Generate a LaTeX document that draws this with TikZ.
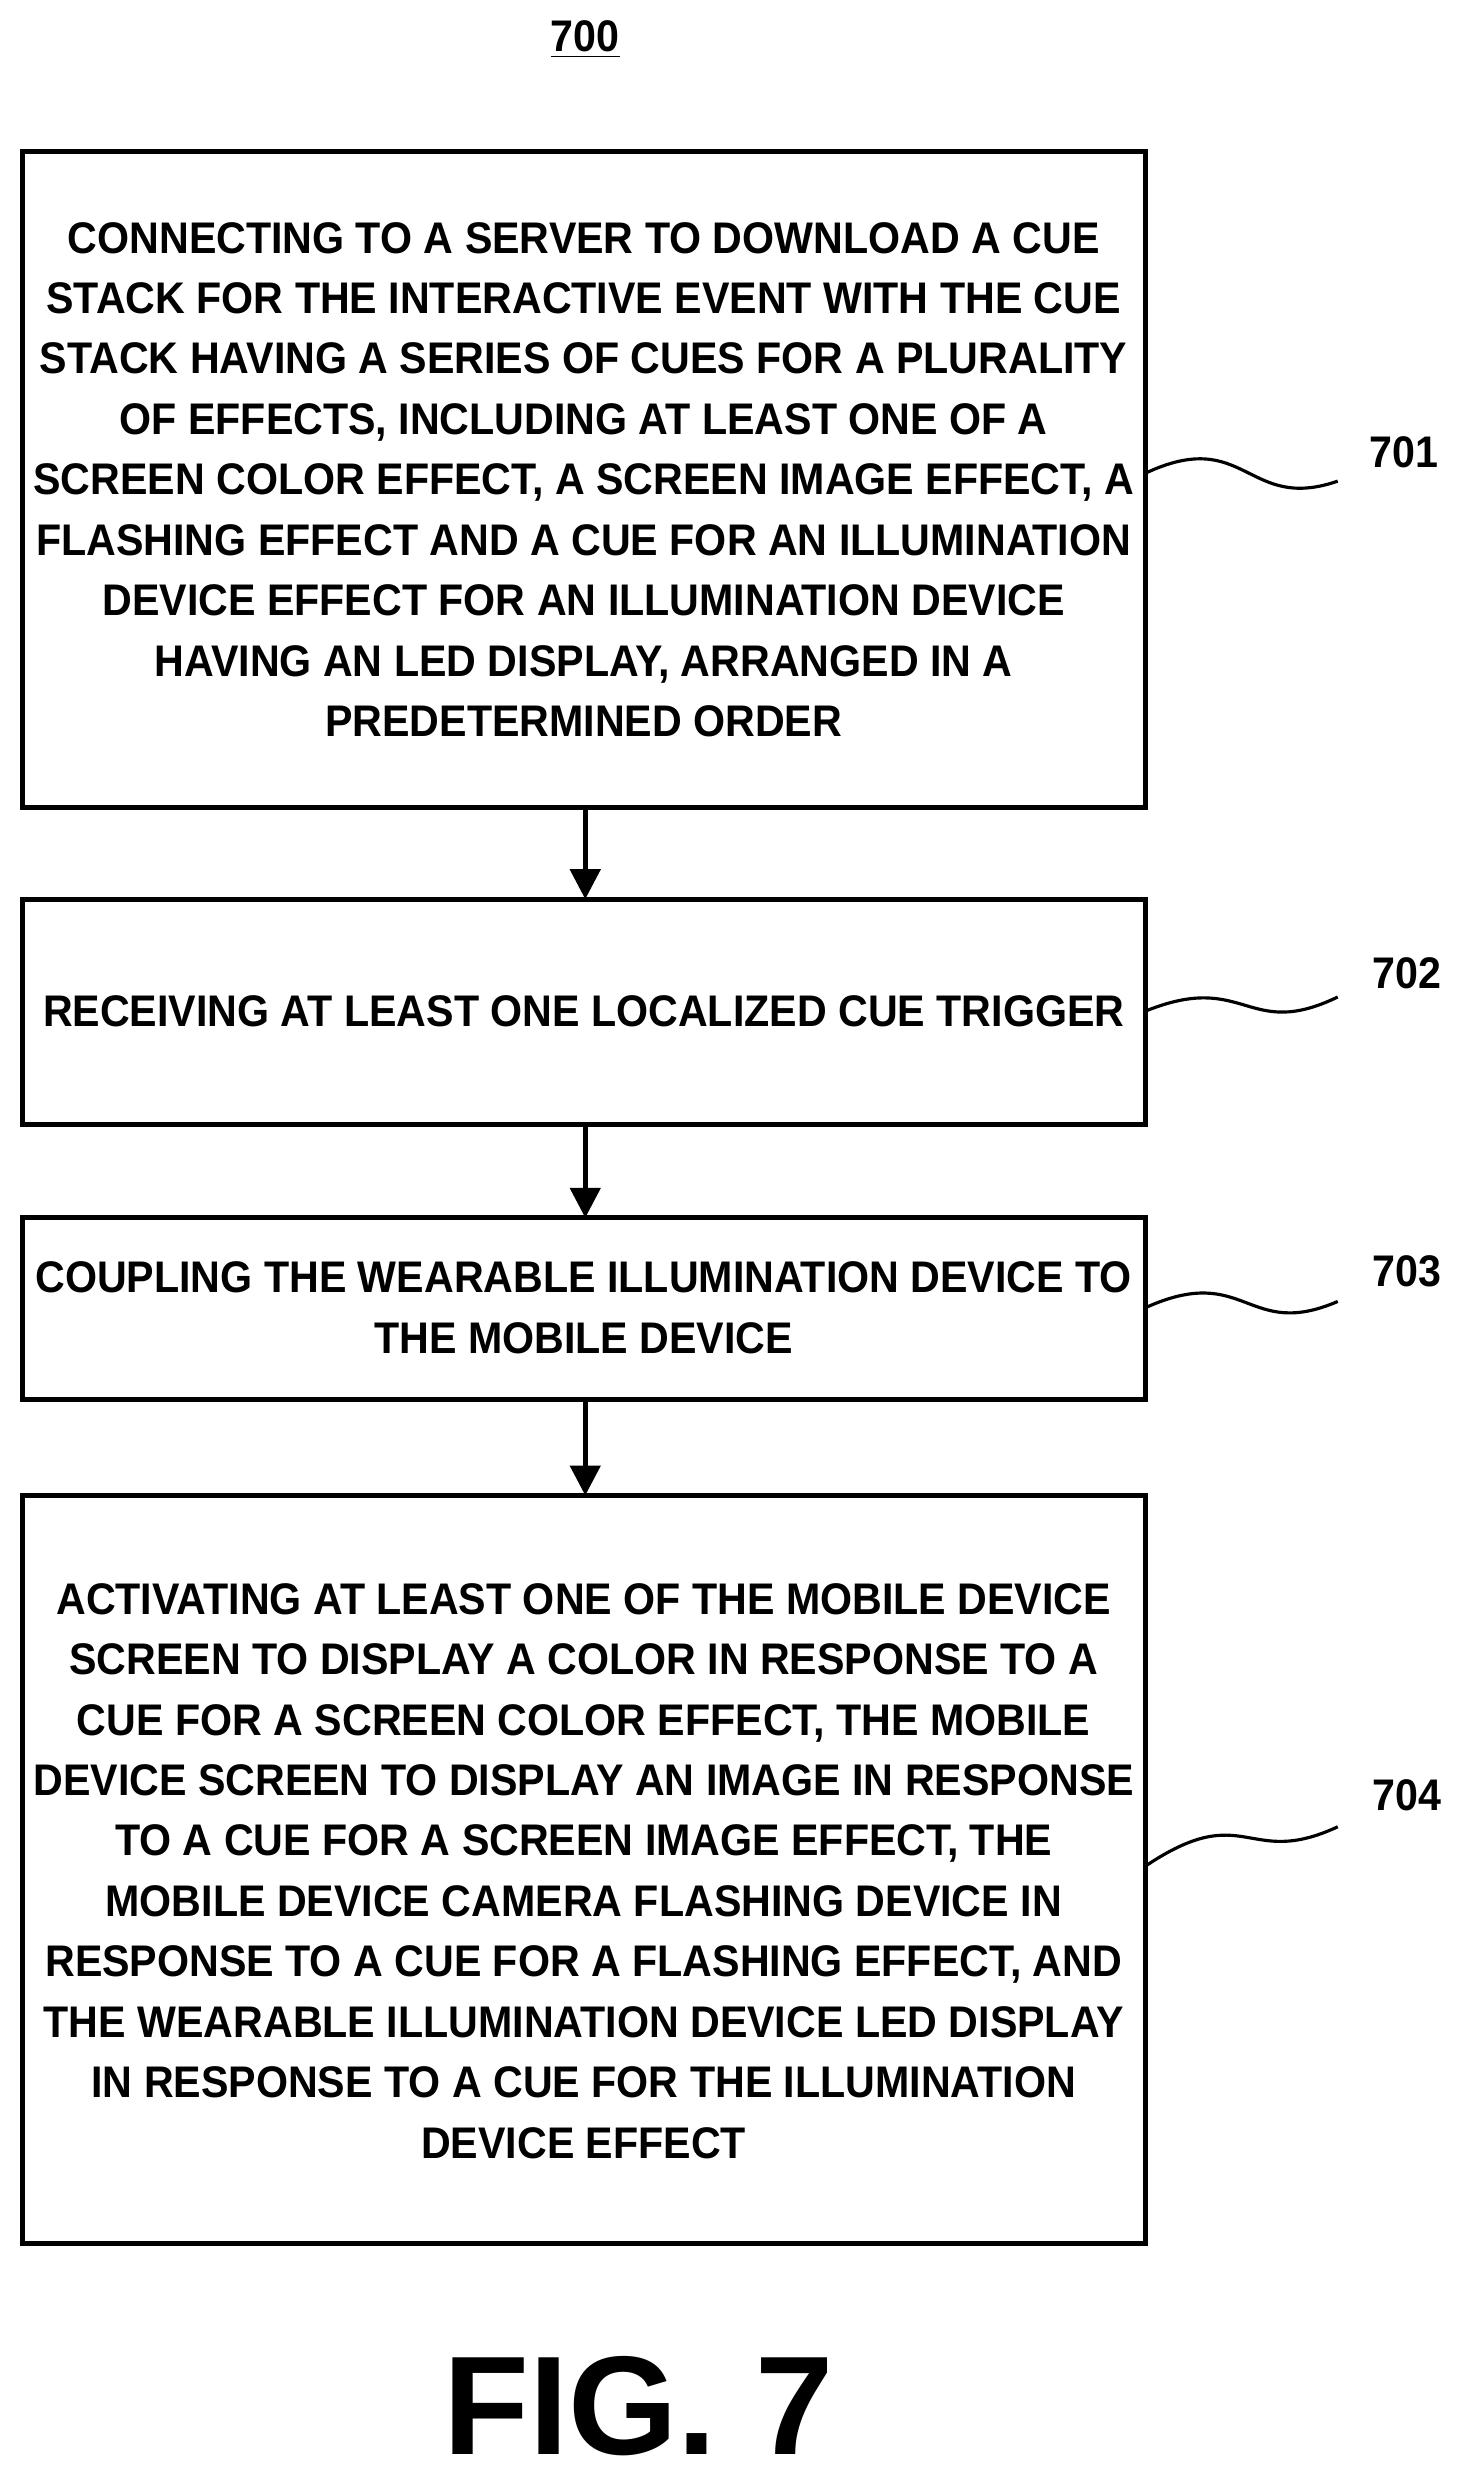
\documentclass[tikz,border=0pt]{standalone}
\usepackage{fontspec}
\setmainfont{Liberation Sans}[FakeStretch=0.93]
\newfontfamily\figfont{Liberation Sans}
\usetikzlibrary{arrows.meta}
\tikzset{%
    >={Triangle[width=3mm,length=3mm]},
    stepframe/.style = {draw=black, line width=1.4pt},
    steptext/.style = {align=center,
        font=\bfseries\fontsize{12.6}{17.2}\selectfont},
    refnum/.style = {font=\bfseries\fontsize{12.6}{15}\selectfont},
    lead/.style = {line width=0.9pt},
}
\begin{document}
\begin{tikzpicture}[x=0.01577cm, y=-0.01577cm]
    \useasboundingbox (0,0) rectangle (930,1574);
    % Title
    \node (title) [refnum] at (371,25) {\underline{700}};

    % Boxes
    \draw[stepframe] (14,96) rectangle (726,512);
    \node (s701) [steptext] at (370,304) {CONNECTING TO A SERVER TO DOWNLOAD A CUE\\
        STACK FOR THE INTERACTIVE EVENT WITH THE CUE\\
        STACK HAVING A SERIES OF CUES FOR A PLURALITY\\
        OF EFFECTS, INCLUDING AT LEAST ONE OF A\\
        SCREEN COLOR EFFECT, A SCREEN IMAGE EFFECT, A\\
        FLASHING EFFECT AND A CUE FOR AN ILLUMINATION\\
        DEVICE EFFECT FOR AN ILLUMINATION DEVICE\\
        HAVING AN LED DISPLAY, ARRANGED IN A\\
        PREDETERMINED ORDER};
    \draw[stepframe] (14,570) rectangle (726,713);
    \node (s702) [steptext] at (370,641) {RECEIVING AT LEAST ONE LOCALIZED CUE TRIGGER};
    \draw[stepframe] (14,772) rectangle (726,887);
    \node (s703) [steptext] at (370,829) {COUPLING THE WEARABLE ILLUMINATION DEVICE TO\\
        THE MOBILE DEVICE};
    \draw[stepframe] (14,948) rectangle (726,1422);
    \node (s704) [steptext] at (370,1186) {ACTIVATING AT LEAST ONE OF THE MOBILE DEVICE\\
        SCREEN TO DISPLAY A COLOR IN RESPONSE TO A\\
        CUE FOR A SCREEN COLOR EFFECT, THE MOBILE\\
        DEVICE SCREEN TO DISPLAY AN IMAGE IN RESPONSE\\
        TO A CUE FOR A SCREEN IMAGE EFFECT, THE\\
        MOBILE DEVICE CAMERA FLASHING DEVICE IN\\
        RESPONSE TO A CUE FOR A FLASHING EFFECT, AND\\
        THE WEARABLE ILLUMINATION DEVICE LED DISPLAY\\
        IN RESPONSE TO A CUE FOR THE ILLUMINATION\\
        DEVICE EFFECT};

    % Arrows
    \coordinate (b1) at (371,512); \coordinate (t2) at (371,570);
    \coordinate (b2) at (371,713); \coordinate (t3) at (371,772);
    \coordinate (b3) at (371,887); \coordinate (t4) at (371,948);
    \draw[->, line width=1.4pt] (b1) -- (t2);
    \draw[->, line width=1.4pt] (b2) -- (t3);
    \draw[->, line width=1.4pt] (b3) -- (t4);

    % Reference numerals
    \node (n701) [refnum] at (890,287) {701};
    \node (n702) [refnum] at (892,617) {702};
    \node (n703) [refnum] at (892,806) {703};
    \node (n704) [refnum] at (892,1138) {704};
    \coordinate (r1) at (726,300); \coordinate (r2) at (726,641);
    \coordinate (r3) at (726,829); \coordinate (r4) at (726,1183);
    \draw[lead] (r1) .. controls (790,270) and (790,325) .. (848,305);
    \draw[lead] (r2) .. controls (790,615) and (790,660) .. (848,632);
    \draw[lead] (r3) .. controls (790,800) and (790,850) .. (848,825);
    \draw[lead] (r4) .. controls (790,1140) and (790,1185) .. (848,1158);

    % Figure label
    \node (fig) [font=\figfont\bfseries\fontsize{40}{48}\selectfont] at (405,1525) {FIG. 7};
\end{tikzpicture}
\end{document}
